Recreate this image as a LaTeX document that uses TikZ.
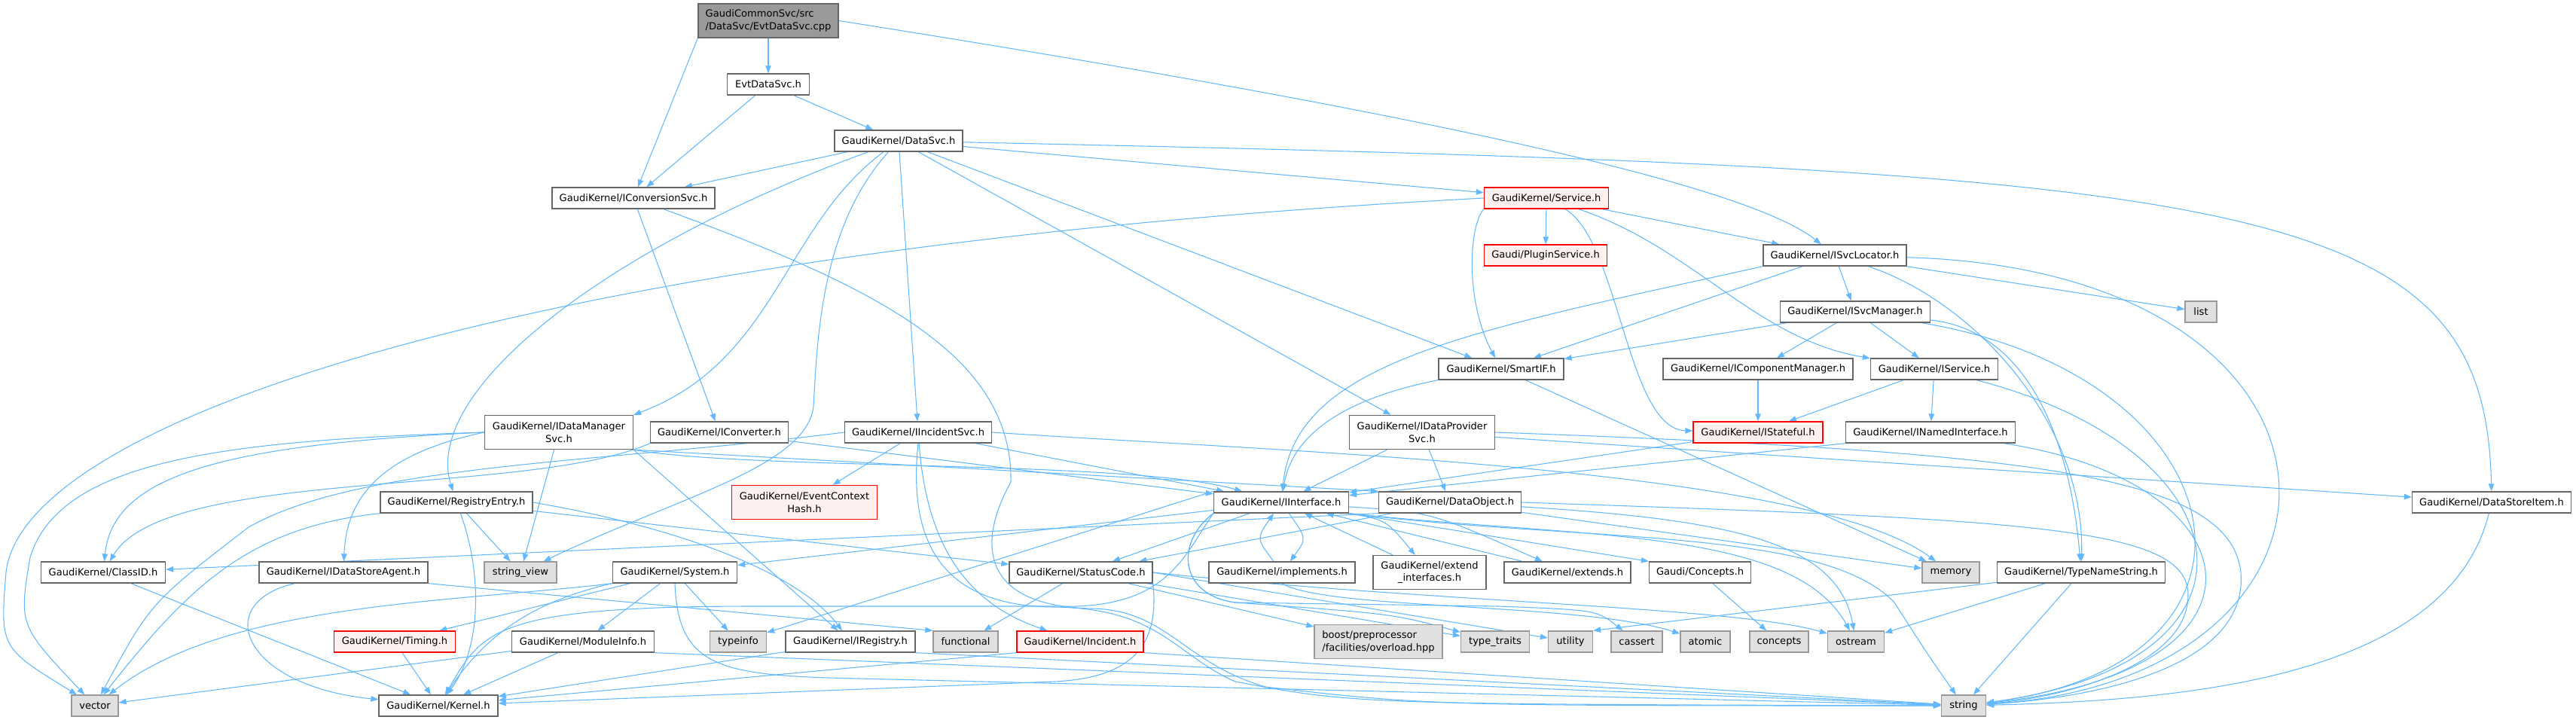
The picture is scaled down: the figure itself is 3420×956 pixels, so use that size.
\documentclass[tikz,border=0pt]{standalone}
\usepackage{fontspec}
\setmainfont{DejaVu Sans}
\usetikzlibrary{arrows.meta,backgrounds}
\definecolor{edgeblue}{HTML}{63B8FF}
\definecolor{boxgray}{HTML}{666666}
\definecolor{extgray}{HTML}{999999}
\definecolor{extfill}{HTML}{E0E0E0}
\definecolor{trunfill}{HTML}{FFF0F0}

\begin{document}
\begin{tikzpicture}[x=0.75pt, y=-0.75pt, >={Triangle[length=7.5pt,width=5.6pt]},
  every node/.style={font=\fontsize{9.8}{12.6}\selectfont, inner sep=0pt,
    minimum height=21pt, draw=boxgray, line width=1pt, fill=white},
  bw/.style={minimum width=#1*0.75pt},
  ext/.style={draw=extgray, fill=extfill},
  trunc/.style={draw=red, fill=trunfill},
  root/.style={draw=boxgray, fill=extgray},
  dbl/.style={minimum height=33.75pt, align=center},
  every edge/.style={draw=edgeblue, line width=0.8pt, ->},
  inc/.style={draw=edgeblue, line width=0.8pt, ->}]
  \useasboundingbox (0,0) rectangle (3420,956);

  \node[root, bw=186, dbl, align=left] (cpp) at (1020,27.5) {GaudiCommonSvc/src\\/DataSvc/EvtDataSvc.cpp};
  \node[bw=109] (EvtH) at (1020,112) {EvtDataSvc.h};
  \node[bw=170] (DataSvc) at (1193,187) {GaudiKernel/DataSvc.h};
  \node[bw=216] (IConvSvc) at (841,263) {GaudiKernel/IConversionSvc.h};
  \node[trunc, bw=165] (Service) at (2053,263) {GaudiKernel/Service.h};
  \node[trunc, bw=163] (PluginSvc) at (2052,339) {Gaudi/PluginService.h};
  \node[bw=190] (ISvcLoc) at (2436,339) {GaudiKernel/ISvcLocator.h};
  \node[bw=199] (ISvcMgr) at (2463,414) {GaudiKernel/ISvcManager.h};
  \node[ext, bw=42] (list) at (2922,414) {list};
  \node[bw=166] (SmartIF) at (1993,490) {GaudiKernel/SmartIF.h};
  \node[bw=252] (ICompMgr) at (2334,490) {GaudiKernel/IComponentManager.h};
  \node[bw=169] (IService) at (2568,490) {GaudiKernel/IService.h};
  \node[bw=197, dbl] (IDataMgr) at (742,574) {GaudiKernel/IDataManager\\Svc.h};
  \node[bw=183] (IConverter) at (955,574) {GaudiKernel/IConverter.h};
  \node[bw=195] (IIncSvc) at (1219,574) {GaudiKernel/IIncidentSvc.h};
  \node[bw=193, dbl] (IDataProv) at (1888,574) {GaudiKernel/IDataProvider\\Svc.h};
  \node[trunc, bw=172] (IStateful) at (2334,574) {GaudiKernel/IStateful.h};
  \node[bw=225] (INamed) at (2563,574) {GaudiKernel/INamedInterface.h};
  \node[bw=202] (RegEntry) at (606,667) {GaudiKernel/RegistryEntry.h};
  \node[trunc, bw=193, dbl] (EvtCtxHash) at (1068,667) {GaudiKernel/EventContext\\Hash.h};
  \node[bw=179] (IInterface) at (1701,667) {GaudiKernel/IInterface.h};
  \node[bw=189] (DataObject) at (1925,667) {GaudiKernel/DataObject.h};
  \node[bw=211] (DataStoreItem) at (3308,667) {GaudiKernel/DataStoreItem.h};
  \node[bw=165] (ClassID) at (137,760) {GaudiKernel/ClassID.h};
  \node[bw=224] (IDataAgent) at (456,760) {GaudiKernel/IDataStoreAgent.h};
  \node[ext, bw=96] (stringview) at (691,760) {string\_view};
  \node[bw=165] (System) at (896,760) {GaudiKernel/System.h};
  \node[bw=190] (StatusCode) at (1435,760) {GaudiKernel/StatusCode.h};
  \node[bw=194] (implements) at (1702,760) {GaudiKernel/implements.h};
  \node[bw=150, dbl] (extendif) at (1898,760) {GaudiKernel/extend\\\_interfaces.h};
  \node[bw=168] (extends) at (2081,760) {GaudiKernel/extends.h};
  \node[bw=135] (Concepts) at (2257,760) {Gaudi/Concepts.h};
  \node[ext, bw=76] (memory) at (2590,760) {memory};
  \node[bw=223] (TypeName) at (2763,760) {GaudiKernel/TypeNameString.h};
  \node[trunc, bw=161] (Timing) at (524,852) {GaudiKernel/Timing.h};
  \node[bw=189] (ModuleInfo) at (774,852) {GaudiKernel/ModuleInfo.h};
  \node[ext, bw=75] (typeinfo) at (980,852) {typeinfo};
  \node[bw=172] (IRegistry) at (1129,852) {GaudiKernel/IRegistry.h};
  \node[ext, bw=86] (functional) at (1282,852) {functional};
  \node[trunc, bw=168] (Incident) at (1434,852) {GaudiKernel/Incident.h};
  \node[ext, bw=170, dbl, align=left] (boost) at (1830,852) {boost/preprocessor\\/facilities/overload.hpp};
  \node[ext, bw=91] (typetraits) at (1985,852) {type\_traits};
  \node[ext, bw=59] (utility) at (2085,852) {utility};
  \node[ext, bw=68] (cassert) at (2173,852) {cassert};
  \node[ext, bw=66] (atomic) at (2264,852) {atomic};
  \node[ext, bw=78] (concepts) at (2362,852) {concepts};
  \node[ext, bw=75] (ostream) at (2464,852) {ostream};
  \node[ext, bw=62] (vector) at (126,937) {vector};
  \node[bw=158] (Kernel) at (582,937) {GaudiKernel/Kernel.h};
  \node[ext, bw=59] (string) at (2607,937) {string};

  \begin{pgfonlayer}{background}
  \path (cpp) edge (EvtH) (cpp.south west) edge (IConvSvc);
  \draw[inc] (cpp.east) .. controls (1700,120) and (2300,230) .. (ISvcLoc);
  \path (EvtH) edge (DataSvc) (EvtH) edge (IConvSvc);
  \path (DataSvc) edge (IConvSvc) (DataSvc) edge (Service) (DataSvc) edge (IDataProv)
        (DataSvc) edge (IIncSvc) (DataSvc) edge (SmartIF);
  \draw[inc] (DataSvc) .. controls (1040,300) and (1030,480) .. (IDataMgr.north east);
  \draw[inc] (DataSvc) .. controls (800,330) and (560,520) .. (RegEntry);
  \draw[inc] (DataSvc) .. controls (1090,300) and (1085,450) .. (1080,540)
        .. controls (1070,620) and (900,660) .. (stringview);
  \draw[inc] (DataSvc) .. controls (3000,225) and (3300,260) .. (DataStoreItem);
  \path (IConvSvc) edge (IConverter);
  \draw[inc] (IConvSvc) .. controls (1160,380) and (1345,470) .. (1342,640)
        .. controls (1295,725) and (1305,805) .. (1450,808)
        .. controls (1550,810) and (1570,880) .. (1680,912) .. controls (1900,937) .. (string);
  \path (Service) edge (PluginSvc) (Service) edge (ISvcLoc);
  \draw[inc] (Service.south west) .. controls (1950,300) and (1945,400) .. (SmartIF);
  \draw[inc] (Service) .. controls (2150,320) and (2160,570) .. (IStateful);
  \draw[inc] (Service) .. controls (2250,330) and (2330,450) .. (IService);
  \draw[inc] (Service.west) .. controls (700,330) and (30,560) .. (8,760) .. controls (0,860) .. (vector);
  \path (ISvcLoc) edge (SmartIF) (ISvcLoc) edge (ISvcMgr) (ISvcLoc) edge (list);
  \draw[inc] (ISvcLoc.south west) .. controls (1950,440) and (1720,480) .. (IInterface);
  \draw[inc] (ISvcLoc) .. controls (2620,400) and (2768,560) .. (TypeName);
  \draw[inc] (ISvcLoc) .. controls (3170,360) and (3170,900) .. (string);
  \path (ISvcMgr) edge (SmartIF) (ISvcMgr) edge (ICompMgr) (ISvcMgr) edge (IService);
  \draw[inc] (ISvcMgr) .. controls (2700,440) and (2750,600) .. (TypeName);
  \draw[inc] (ISvcMgr) .. controls (2980,500) and (3050,880) .. (string);
  \path (ICompMgr) edge (IStateful);
  \path (IService) edge (IStateful) (IService) edge (INamed);
  \draw[inc] (IService) .. controls (2990,600) and (3030,880) .. (string);
  \path (INamed.south west) edge (IInterface);
  \draw[inc] (INamed) .. controls (3000,640) and (3040,890) .. (string);
  \path (IStateful) edge (IInterface);
  \draw[inc] (SmartIF.south west) .. controls (1780,530) and (1715,580) .. (IInterface);
  \path (SmartIF) edge (memory);
  \draw[inc] (IDataMgr.west) .. controls (300,590) and (150,630) .. (ClassID);
  \draw[inc] (IDataMgr.west) .. controls (520,600) and (460,650) .. (IDataAgent);
  \draw[inc] (IDataMgr.south east) .. controls (1000,625) and (1500,610) .. (IInterface);
  \draw[inc] (IDataMgr.west) .. controls (300,585) and (80,610) .. (40,740) .. controls (25,830) .. (vector);
  \path (IDataMgr.south east) edge (IRegistry) (IDataMgr) edge (stringview)
        (IDataMgr.south east) edge (DataObject.north west);
  \draw[inc] (IConverter.south west) .. controls (700,660) and (220,620) .. (ClassID);
  \path (IConverter) edge (IInterface);
  \path (IIncSvc) edge (EvtCtxHash) (IIncSvc) edge (IInterface);
  \draw[inc] (IIncSvc) .. controls (1230,720) and (1280,800) .. (Incident);
  \draw[inc] (IIncSvc.west) .. controls (800,615) and (480,615) .. (330,700) .. controls (200,800) .. (vector);
  \draw[inc] (IIncSvc.east) .. controls (1700,600) and (2400,620) .. (memory);
  \draw[inc] (IIncSvc.south) .. controls (1205,720) and (1250,805) .. (1400,806)
        .. controls (1540,808) and (1560,870) .. (1640,905) .. controls (1800,935) .. (string);
  \path (IDataProv) edge (IInterface) (IDataProv) edge (DataObject) (IDataProv) edge (DataStoreItem);
  \draw[inc] (IDataProv.east) .. controls (2700,600) and (2960,630) .. (2975,760)
        .. controls (2985,880) and (2800,925) .. (string);
  \draw[inc] (RegEntry.east) .. controls (900,700) and (1060,760) .. (IRegistry);
  \draw[inc] (RegEntry) .. controls (640,760) and (640,860) .. (Kernel);
  \draw[inc] (RegEntry.south west) .. controls (330,700) and (250,780) .. (vector);
  \path (RegEntry) edge (StatusCode) (RegEntry) edge (stringview);
  \path (IInterface) edge (System) (IInterface) edge (StatusCode)
        (IInterface.north west) edge (typeinfo) (IInterface.south east) edge (Concepts.north west);
  \draw[inc] (IInterface) .. controls (1735,715) .. (implements);
  \draw[inc] (IInterface) .. controls (1840,690) .. (extendif);
  \draw[inc] (IInterface) .. controls (1900,680) .. (extends);
  \draw[inc] (IInterface.south west) .. controls (1570,740) and (1550,810) .. (1400,805) -- (1000,805)
        .. controls (650,805) and (640,840) .. (Kernel);
  \draw[inc] (IInterface.south west) .. controls (1560,720) and (1565,790) .. (1640,800)
        .. controls (1850,815) .. (typetraits);
  \draw[inc] (IInterface.south west) .. controls (1560,720) and (1565,790) .. (1640,800)
        -- (1990,805) .. controls (2120,810) .. (cassert);
  \draw[inc] (IInterface.south east) .. controls (2100,715) and (2380,700) .. (ostream);
  \draw[inc] (IInterface.south east) .. controls (2100,720) and (2420,700) .. (2515,800)
        .. controls (2560,870) .. (string);
  \draw[inc] (implements) .. controls (1668,715) .. (IInterface);
  \draw[inc] (implements.south) .. controls (1760,810) and (2100,800) .. (atomic);
  \path (extendif) edge (IInterface) (extends) edge (IInterface);
  \path (DataObject.south west) edge (ClassID) (DataObject) edge (StatusCode) (DataObject) edge (memory);
  \draw[inc] (DataObject) .. controls (2300,690) and (2440,720) .. (ostream);
  \draw[inc] (DataObject.east) .. controls (2700,690) and (2905,700) .. (2905,790)
        .. controls (2905,880) and (2750,925) .. (string);
  \draw[inc] (DataStoreItem) .. controls (3250,900) and (2900,930) .. (string);
  \path (ClassID) edge (Kernel);
  \draw[inc] (IDataAgent) .. controls (280,800) and (320,910) .. (Kernel);
  \path (IDataAgent.south east) edge (functional.north west);
  \draw[inc] (System.south west) .. controls (700,800) and (640,850) .. (Kernel);
  \draw[inc] (System.south west) .. controls (600,800) and (300,800) .. (vector);
  \draw[inc] (System.south) .. controls (900,880) and (950,895) .. (1100,900) -- (string);
  \path (System) edge (Timing) (System) edge (ModuleInfo) (System) edge (typeinfo);
  \path (StatusCode) edge (boost) (StatusCode) edge (functional) (StatusCode) edge (typetraits)
        (StatusCode.east) edge (utility);
  \draw[inc] (StatusCode.east) .. controls (1900,800) and (2300,805) .. (ostream);
  \draw[inc] (StatusCode.south east) .. controls (1540,860) and (1500,900) .. (1400,905) -- (Kernel);
  \path (Concepts) edge (concepts);
  \path (TypeName) edge (string) (TypeName) edge (ostream) (TypeName) edge (utility.north east);
  \path (Timing) edge (Kernel);
  \path (ModuleInfo) edge (Kernel) (ModuleInfo) edge (vector) (ModuleInfo.south east) edge (string);
  \path (IRegistry) edge (Kernel) (IRegistry.south east) edge (string);
  \path (Incident.south west) edge (Kernel) (Incident.south east) edge (string);
  \end{pgfonlayer}
\end{tikzpicture}
\end{document}
